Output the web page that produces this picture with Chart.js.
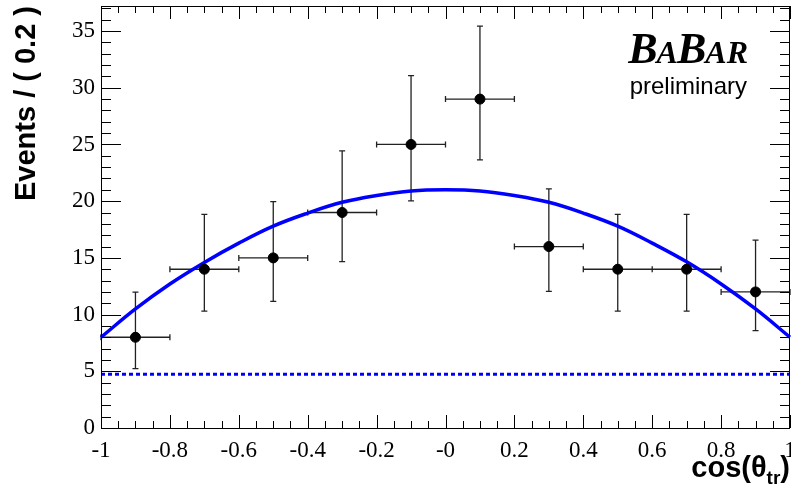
<!DOCTYPE html>
<html>
<head>
<meta charset="utf-8">
<script src="https://cdn.jsdelivr.net/npm/chart.js@4.4.1/dist/chart.umd.min.js"></script>
<style>
  html, body { margin: 0; padding: 0; background: #fff; }
  #wrap { width: 791px; height: 496px; position: relative; }
</style>
</head>
<body>
<div id="wrap"><canvas id="c" width="791" height="496"></canvas></div>
<script>
// Binned data: cos(theta_tr) bin centres, event counts and asymmetric (Poisson) errors
const binCenters = [-0.9, -0.7, -0.5, -0.3, -0.1, 0.1, 0.3, 0.5, 0.7, 0.9];
const binHalfWidth = 0.1;
const counts   = [8, 14, 15, 19, 25, 29, 16, 14, 14, 12];
const errLow   = [2.76, 3.69, 3.83, 4.33, 4.97, 5.36, 3.96, 3.69, 3.69, 3.42];
const errHigh  = [3.98, 4.83, 4.96, 5.43, 6.07, 6.44, 5.09, 4.83, 4.83, 4.57];

// Total fit curve, sampled along cos(theta_tr)
const fitX = [-1.0, -0.9, -0.8, -0.7, -0.6, -0.5, -0.4, -0.3, -0.2, -0.1, 0.0,
               0.1, 0.2, 0.3, 0.4, 0.5, 0.6, 0.7, 0.8, 0.9, 1.0];
const fitY = [8.0, 10.5, 12.7, 14.6, 16.3, 17.8, 18.95, 19.9, 20.5, 20.9, 21.0,
              20.9, 20.5, 19.9, 18.95, 17.8, 16.3, 14.65, 12.7, 10.5, 8.0];

// Flat background component
const bkgX = [-1.0, 1.0];
const bkgY = [4.75, 4.75];

// Axis ranges and tick labels
const xMin = -1, xMax = 1;
const yMin = 0, yMax = 37.21;
const xTickValues = [-1, -0.8, -0.6, -0.4, -0.2, 0, 0.2, 0.4, 0.6, 0.8, 1];
const xTickLabels = ["-1", "-0.8", "-0.6", "-0.4", "-0.2", "-0", "0.2", "0.4", "0.6", "0.8", "1"];
const yTickValues = [0, 5, 10, 15, 20, 25, 30, 35];
const yTickLabels = ["0", "5", "10", "15", "20", "25", "30", "35"];
const xMinorStep = 0.05;
const yMinorStep = 1;

const SERIF = '"Liberation Serif", "Times New Roman", serif';
const SANS = '"Liberation Sans", Arial, Helvetica, sans-serif';

// Frame with inward-pointing ticks on all four sides
const framePlugin = {
  id: 'frame',
  afterDraw(chart) {
    const ctx = chart.ctx;
    const xs = chart.scales.x, ys = chart.scales.y;
    const L = chart.chartArea.left, R = chart.chartArea.right;
    const T = chart.chartArea.top, B = chart.chartArea.bottom;
    ctx.save();
    ctx.strokeStyle = '#000';
    ctx.lineWidth = 1;
    ctx.beginPath();
    const nx = Math.round((xMax - xMin) / xMinorStep);
    for (let i = 0; i <= nx; i++) {
      const v = xMin + i * xMinorStep;
      const px = Math.round(xs.getPixelForValue(v)) + 0.5;
      const len = i % 4 === 0 ? 13 : 7;
      ctx.moveTo(px, B); ctx.lineTo(px, B - len);
      ctx.moveTo(px, T); ctx.lineTo(px, T + len);
    }
    const ny = Math.floor((yMax - yMin) / yMinorStep);
    for (let i = 0; i <= ny; i++) {
      const v = yMin + i * yMinorStep;
      const py = Math.round(ys.getPixelForValue(v)) + 0.5;
      const len = i % 5 === 0 ? 20 : 10;
      ctx.moveTo(L, py); ctx.lineTo(L + len, py);
      ctx.moveTo(R, py); ctx.lineTo(R - len, py);
    }
    ctx.stroke();
    ctx.strokeRect(Math.round(L) + 0.5, Math.round(T) + 0.5, Math.round(R - L) - 1, Math.round(B - T));
    ctx.restore();
  }
};

// Error bars for the binned counts, drawn under the markers
const errorBarPlugin = {
  id: 'errorBars',
  beforeDatasetsDraw(chart) {
    const ctx = chart.ctx;
    const xs = chart.scales.x, ys = chart.scales.y;
    ctx.save();
    ctx.strokeStyle = '#222';
    ctx.lineWidth = 1.3;
    ctx.beginPath();
    for (let i = 0; i < binCenters.length; i++) {
      const cx = xs.getPixelForValue(binCenters[i]);
      const cy = ys.getPixelForValue(counts[i]);
      const x0 = xs.getPixelForValue(binCenters[i] - binHalfWidth);
      const x1 = xs.getPixelForValue(binCenters[i] + binHalfWidth);
      const y0 = ys.getPixelForValue(counts[i] - errLow[i]);
      const y1 = ys.getPixelForValue(counts[i] + errHigh[i]);
      ctx.moveTo(x0, cy); ctx.lineTo(x1, cy);
      ctx.moveTo(x0, cy - 3); ctx.lineTo(x0, cy + 3);
      ctx.moveTo(x1, cy - 3); ctx.lineTo(x1, cy + 3);
      ctx.moveTo(cx, y0); ctx.lineTo(cx, y1);
      ctx.moveTo(cx - 3, y0); ctx.lineTo(cx + 3, y0);
      ctx.moveTo(cx - 3, y1); ctx.lineTo(cx + 3, y1);
    }
    ctx.stroke();
    ctx.restore();
  }
};

// Axis titles and experiment label
const textPlugin = {
  id: 'texts',
  afterDraw(chart) {
    const ctx = chart.ctx;
    ctx.save();
    ctx.fillStyle = '#000';

    // x-axis title: cos(θ_tr)
    const mainFont = 'bold 29px ' + SANS;
    const subFont = 'bold 19px ' + SANS;
    ctx.textBaseline = 'alphabetic';
    ctx.textAlign = 'left';
    ctx.font = mainFont;
    const w1 = ctx.measureText('cos(θ').width;
    const w3 = ctx.measureText(')').width;
    ctx.font = subFont;
    const w2 = ctx.measureText('tr').width;
    const x = 790 - (w1 + w2 + w3);
    const base = 477;
    ctx.font = mainFont;
    ctx.fillText('cos(θ', x, base);
    ctx.font = subFont;
    ctx.fillText('tr', x + w1, base + 7);
    ctx.font = mainFont;
    ctx.fillText(')', x + w1 + w2, base);

    // y-axis title, aligned to the top of the axis
    ctx.save();
    ctx.translate(35, 6);
    ctx.rotate(-Math.PI / 2);
    ctx.font = 'bold 29px ' + SANS;
    ctx.textAlign = 'right';
    ctx.fillText('Events / ( 0.2 )', 0, 0);
    ctx.restore();

    // BABAR logo with small-capital A's
    const big = 'italic bold 44px ' + SERIF;
    const small = 'italic bold 32px ' + SERIF;
    const parts = [['B', big], ['A', small], ['B', big], ['AR', small]];
    let tw = 0;
    for (const [t, f] of parts) { ctx.font = f; tw += ctx.measureText(t).width - 1; }
    let lx = 747 - tw;
    ctx.textAlign = 'left';
    for (const [t, f] of parts) {
      ctx.font = f;
      ctx.fillText(t, lx, 63);
      lx += ctx.measureText(t).width - 1;
    }
    ctx.font = '24px ' + SANS;
    ctx.textAlign = 'right';
    ctx.fillText('preliminary', 747, 94);
    ctx.restore();
  }
};

const ctx = document.getElementById('c').getContext('2d');
new Chart(ctx, {
  type: 'scatter',
  data: {
    datasets: [
      {
        label: 'background',
        type: 'line',
        data: bkgX.map((x, i) => ({ x, y: bkgY[i] })),
        borderColor: '#0000ff',
        borderWidth: 3,
        borderDash: [4, 3],
        pointRadius: 0,
        fill: false,
        order: 3
      },
      {
        label: 'fit',
        type: 'line',
        data: fitX.map((x, i) => ({ x, y: fitY[i] })),
        borderColor: '#0000ff',
        borderWidth: 3.5,
        tension: 0.4,
        pointRadius: 0,
        fill: false,
        order: 2
      },
      {
        label: 'data',
        data: binCenters.map((x, i) => ({ x, y: counts[i] })),
        backgroundColor: '#000',
        borderColor: '#000',
        pointRadius: 5,
        pointHoverRadius: 5,
        order: 1
      }
    ]
  },
  options: {
    responsive: false,
    animation: false,
    clip: false,
    layout: { autoPadding: false, padding: { top: 6, right: 1, left: 0, bottom: 0 } },
    plugins: {
      legend: { display: false },
      tooltip: { enabled: false },
      title: { display: false }
    },
    scales: {
      x: {
        type: 'linear',
        min: xMin, max: xMax,
        grid: { display: false, drawTicks: false },
        border: { display: false },
        afterBuildTicks(scale) { scale.ticks = xTickValues.map(v => ({ value: v })); },
        afterFit(scale) {
          scale.height = 68;
          scale.paddingLeft = 0; scale.paddingRight = 0;
        },
        ticks: {
          autoSkip: false,
          maxRotation: 0,
          padding: 9,
          color: '#000',
          font: { family: SERIF, size: 23 },
          callback: (v, i) => xTickLabels[i]
        }
      },
      y: {
        type: 'linear',
        min: yMin, max: yMax,
        grid: { display: false, drawTicks: false },
        border: { display: false },
        afterBuildTicks(scale) { scale.ticks = yTickValues.map(v => ({ value: v })); },
        afterFit(scale) {
          scale.width = 101;
          scale.paddingTop = 0; scale.paddingBottom = 0;
        },
        ticks: {
          autoSkip: false,
          padding: 6,
          color: '#000',
          font: { family: SERIF, size: 23 },
          callback: (v, i) => yTickLabels[i]
        }
      }
    }
  },
  plugins: [errorBarPlugin, framePlugin, textPlugin]
});
</script>
</body>
</html>
